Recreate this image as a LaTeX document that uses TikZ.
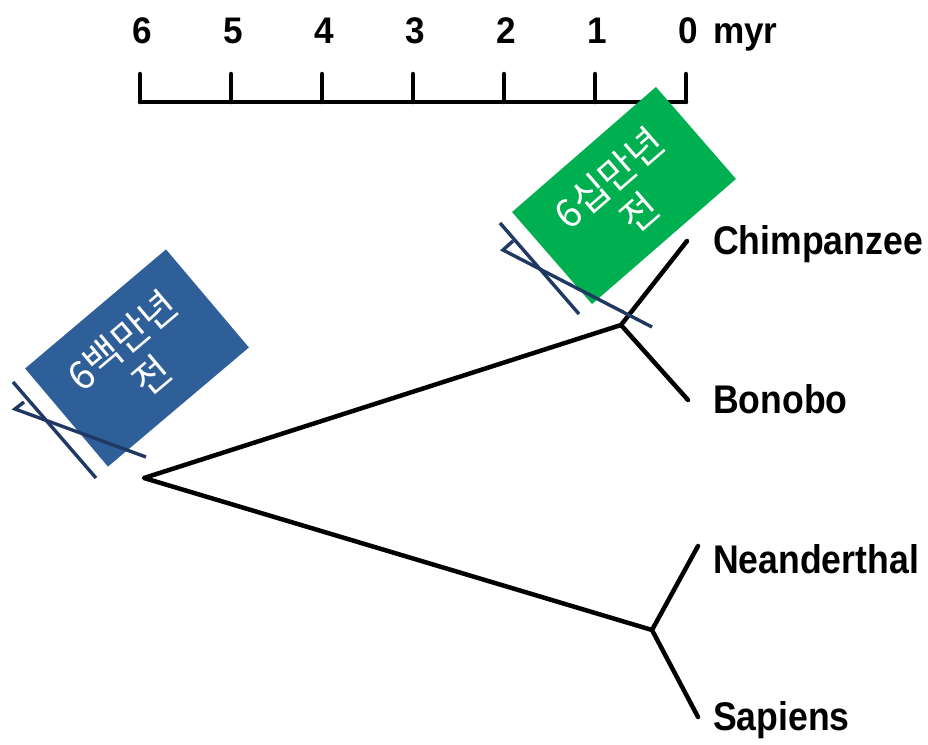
\documentclass[tikz,border=0pt]{standalone}
\usepackage{fontspec}
\setmainfont{Liberation Sans}
\newfontfamily\krfont{Noto Sans CJK KR}
\definecolor{boxblue}{RGB}{47,95,152}
\definecolor{boxgreen}{RGB}{0,176,80}
\definecolor{navy}{RGB}{32,56,100}
\begin{document}
\begin{tikzpicture}[x=1pt,y=-1pt,
  treeline/.style={line width=4.5pt, black, line cap=round, line join=round},
  scaleline/.style={line width=4.5pt, black, line cap=round, line join=round},
  numlabel/.style={font=\fontsize{37}{40}\selectfont\bfseries, anchor=base, inner sep=0pt, xscale=0.95},
  taxon/.style={font=\fontsize{40}{44}\selectfont\bfseries, anchor=base west, inner sep=0pt, xscale=0.89},
  tagbox/.style={inner sep=0pt, align=center, text=white,
     font=\krfont\fontsize{39}{46}\selectfont},
  crossline/.style={line width=3.4pt, navy, line join=miter}
]
\useasboundingbox (0,0) rectangle (928,744);
\fill[white] (0,0) rectangle (928,744);

% ---- time scale ----
\foreach \i/\lab in {0/6,1/5,2/4,3/3,4/2,5/1,6/0} {
  \coordinate (tt\lab) at ({140+91*\i},74);
  \coordinate (tb\lab) at ({140+91*\i},102);
  \node[numlabel] (n\lab) at ({142+91*\i},43) {\lab};
}
\node[numlabel, anchor=base west] (myr) at (713,43) {myr};
\draw[scaleline] (tb6) -- (tb0);
\foreach \lab in {6,5,4,3,2,1,0} { \draw[scaleline] (tt\lab) -- (tb\lab); }

% ---- tree ----
\coordinate (root) at (144,478);
\coordinate (cb) at (621,325);
\coordinate (ns) at (652,630);
\coordinate (chimp) at (687,241);
\coordinate (bono) at (688,400);
\coordinate (nean) at (698,546);
\coordinate (sapi) at (698,717);
\draw[treeline] (chimp) -- (cb) -- (root) -- (ns) -- (nean);
\draw[treeline] (cb) -- (bono);
\draw[treeline] (ns) -- (sapi);

\node[taxon] (lchimp) at (713,254.5) {Chimpanzee};
\node[taxon] (lbono) at (713,413) {Bonobo};
\node[taxon] (lnean) at (713,573) {Neanderthal};
\node[taxon] (lsapi) at (713,730) {Sapiens};

% ---- tags ----
\node[tagbox, fill=boxblue, minimum width=184.5pt, minimum height=128.4pt, rotate=40.2]
  (bluetag) at (137,358) {6백만년\\전};
\node[tagbox, fill=boxgreen, minimum width=190.7pt, minimum height=121.9pt, rotate=41]
  (greentag) at (624,195.5) {6십만년\\전};

% ---- cross marks ----
\coordinate (bx1) at (13,382);
\coordinate (bx2) at (96,478);
\coordinate (bh1) at (24,402);
\coordinate (bh2) at (15,409);
\coordinate (bh3) at (146,457);
\draw[crossline] (bx1) -- (bx2);
\draw[crossline] (bh1) -- (bh2) -- (bh3);

\coordinate (gx1) at (500,223);
\coordinate (gx2) at (579,314);
\coordinate (gh1) at (513,241);
\coordinate (gh2) at (503,250);
\coordinate (gh3) at (652,327);
\draw[crossline] (gx1) -- (gx2);
\draw[crossline] (gh1) -- (gh2) -- (gh3);
\end{tikzpicture}
\end{document}
